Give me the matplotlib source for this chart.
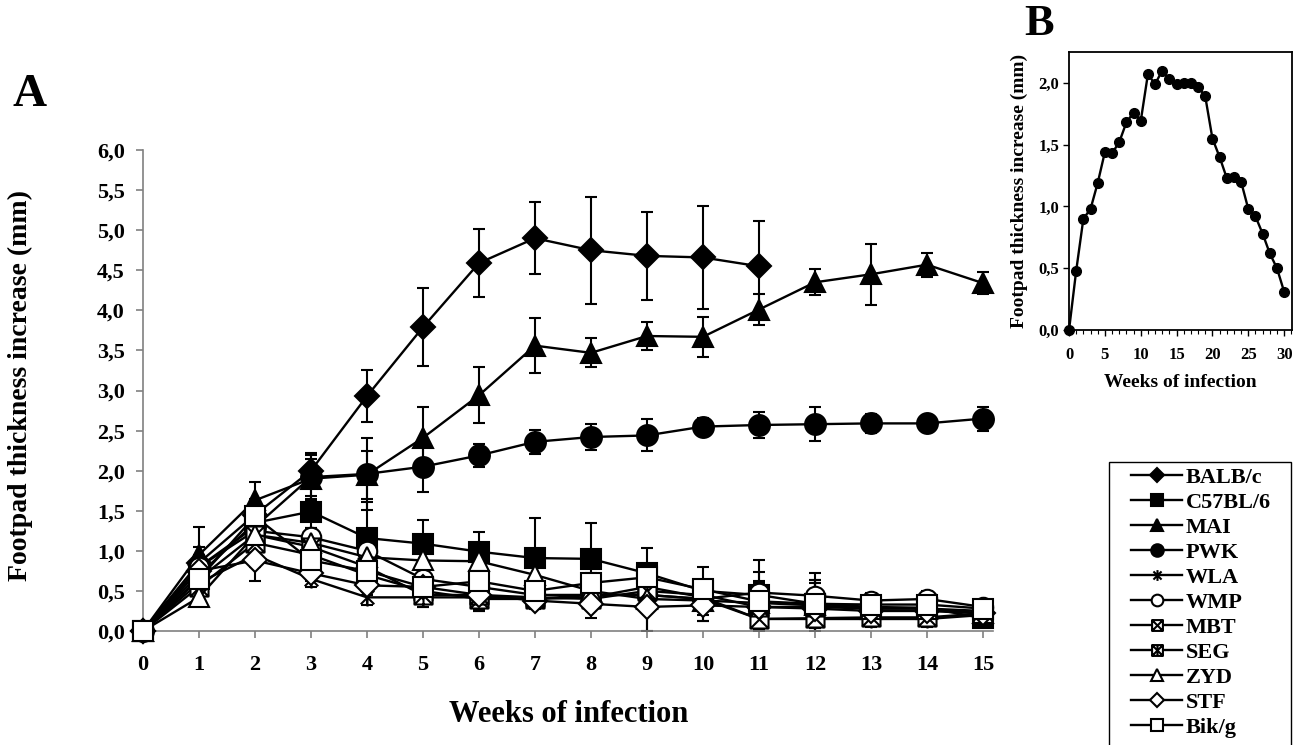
import numpy as np
import matplotlib
matplotlib.use("Agg")
import matplotlib.pyplot as plt
from matplotlib.path import Path
from matplotlib.patches import Rectangle
from matplotlib.ticker import FuncFormatter, MultipleLocator

plt.rcParams['font.family'] = ['Liberation Serif', 'DejaVu Serif']
plt.rcParams['font.weight'] = 'bold'

# panel A data (weeks of infection, mean footpad increase, SD)
weeks = np.arange(16)
strains = ['BALB/c', 'C57BL/6', 'MAI', 'PWK', 'WLA', 'WMP', 'MBT', 'SEG', 'ZYD', 'STF', 'Bik/g']

balb = [0, 0.85, 1.45, 2.00, 2.93, 3.79, 4.59, 4.90, 4.75, 4.68, 4.66, 4.55]
balb_err = [0, 0.20, 0.20, 0.22, 0.32, 0.49, 0.42, 0.45, 0.67, 0.55, 0.64, 0.57]
c57 = [0, 0.70, 1.35, 1.49, 1.16, 1.09, 0.99, 0.91, 0.90, 0.72, 0.50, 0.45, 0.34, 0.30, 0.29, 0.16]
c57_err = [0, 0.15, 0.20, 0.20, 0.45, 0.30, 0.24, 0.50, 0.45, 0.32, 0.30, 0.43, 0.30, 0.15, 0.12, 0.10]
mai = [0, 0.95, 1.63, 1.90, 1.95, 2.41, 2.94, 3.56, 3.47, 3.68, 3.67, 4.01, 4.35, 4.45, 4.57, 4.34]
mai_err = [0, 0.35, 0.23, 0.25, 0.30, 0.38, 0.35, 0.34, 0.18, 0.17, 0.25, 0.19, 0.16, 0.38, 0.15, 0.14]
pwk = [0, 0.80, 1.30, 1.92, 1.96, 2.05, 2.19, 2.36, 2.42, 2.44, 2.55, 2.57, 2.58, 2.59, 2.59, 2.65]
pwk_err = [0, 0.15, 0.20, 0.28, 0.45, 0.31, 0.14, 0.15, 0.16, 0.20, 0.11, 0.16, 0.21, 0.12, 0.11, 0.15]
wla = [0, 0.60, 0.95, 0.65, 0.42, 0.42, 0.42, 0.40, 0.45, 0.45, 0.40, 0.15, 0.15, 0.15, 0.15, 0.20]
wla_err = [0, 0.10, 0.15, 0.10, 0.10, 0.12, 0.15, 0.10, 0.12, 0.15, 0.12, 0.15, 0.25, 0.10, 0.10, 0.08]
wmp = [0, 0.80, 1.25, 1.17, 1.00, 0.65, 0.55, 0.45, 0.45, 0.45, 0.40, 0.48, 0.44, 0.38, 0.40, 0.30]
wmp_err = [0, 0.12, 0.15, 0.12, 0.15, 0.12, 0.10, 0.10, 0.10, 0.12, 0.12, 0.15, 0.20, 0.10, 0.10, 0.08]
mbt = [0, 0.55, 1.10, 0.95, 0.70, 0.50, 0.40, 0.40, 0.42, 0.55, 0.42, 0.15, 0.16, 0.17, 0.17, 0.22]
mbt_err = [0, 0.10, 0.15, 0.12, 0.10, 0.10, 0.12, 0.10, 0.10, 0.20, 0.12, 0.18, 0.25, 0.10, 0.08, 0.08]
seg = [0, 0.65, 1.20, 1.05, 0.80, 0.45, 0.45, 0.42, 0.40, 0.50, 0.45, 0.30, 0.30, 0.28, 0.28, 0.25]
seg_err = [0, 0.10, 0.15, 0.12, 0.12, 0.15, 0.20, 0.12, 0.12, 0.15, 0.15, 0.30, 0.30, 0.12, 0.10, 0.08]
zyd = [0, 0.42, 1.20, 1.10, 0.92, 0.88, 0.87, 0.70, 0.50, 0.40, 0.38, 0.35, 0.32, 0.28, 0.28, 0.22]
zyd_err = [0, 0.10, 0.20, 0.15, 0.15, 0.12, 0.18, 0.15, 0.15, 0.40, 0.25, 0.38, 0.40, 0.15, 0.12, 0.10]
stf = [0, 0.75, 0.88, 0.72, 0.57, 0.55, 0.45, 0.38, 0.34, 0.30, 0.32, 0.30, 0.28, 0.25, 0.25, 0.22]
stf_err = [0, 0.12, 0.25, 0.10, 0.12, 0.10, 0.20, 0.10, 0.18, 0.32, 0.20, 0.20, 0.20, 0.10, 0.10, 0.08]
bik = [0, 0.65, 1.43, 0.88, 0.75, 0.55, 0.62, 0.50, 0.60, 0.67, 0.52, 0.37, 0.34, 0.33, 0.33, 0.28]
bik_err = [0, 0.10, 0.12, 0.12, 0.12, 0.10, 0.12, 0.10, 0.12, 0.12, 0.12, 0.15, 0.15, 0.10, 0.10, 0.08]

# panel B data
weeks_b = np.arange(31)
footpad_b = [0, 0.48, 0.90, 0.98, 1.19, 1.44, 1.43, 1.52, 1.68, 1.76, 1.69, 2.07, 1.99, 2.10,
             2.03, 1.99, 2.00, 2.00, 1.97, 1.89, 1.55, 1.40, 1.23, 1.24, 1.20, 0.98, 0.92,
             0.78, 0.62, 0.50, 0.31]

# custom markers
asterisk = Path([(-0.75, -0.75), (0.75, 0.75), (-0.75, 0.75), (0.75, -0.75), (0, -1), (0, 1)],
                [Path.MOVETO, Path.LINETO] * 3)
sq = [(-1, -1), (1, -1), (1, 1), (-1, 1), (-1, -1)]
sq_codes = [Path.MOVETO, Path.LINETO, Path.LINETO, Path.LINETO, Path.CLOSEPOLY]
box_x = Path(sq + [(-1, -1), (1, 1), (-1, 1), (1, -1)],
             sq_codes + [Path.MOVETO, Path.LINETO, Path.MOVETO, Path.LINETO])
box_star = Path(sq + [(-1, -1), (1, 1), (-1, 1), (1, -1), (0, -1), (0, 1)],
                sq_codes + [Path.MOVETO, Path.LINETO] * 3)

series = [
    (balb, balb_err, 'D', 'black', 12),
    (c57, c57_err, 's', 'black', 14),
    (mai, mai_err, '^', 'black', 15),
    (pwk, pwk_err, 'o', 'black', 15),
    (wla, wla_err, asterisk, 'black', 13),
    (wmp, wmp_err, 'o', 'white', 14),
    (mbt, mbt_err, box_x, 'white', 13),
    (seg, seg_err, box_star, 'white', 13),
    (zyd, zyd_err, '^', 'white', 15),
    (stf, stf_err, 'D', 'white', 12),
    (bik, bik_err, 's', 'white', 14),
]

fig = plt.figure(figsize=(12.95, 7.45), dpi=100)
ax = fig.add_axes([0.1104, 0.153, 0.6564, 0.6456])

handles = []
for (vals, err, mk, fc, ms), name in zip(series, strains):
    x = weeks[:len(vals)]
    ax.errorbar(x, vals, yerr=err, fmt='none', ecolor='black', elinewidth=1.5,
                capsize=4.5, capthick=1.5, zorder=2)
    h, = ax.plot(x, vals, color='black', lw=1.7, marker=mk, markersize=ms,
                 markerfacecolor=fc, markeredgecolor='black', markeredgewidth=1.5,
                 label=name, zorder=3, clip_on=False)
    handles.append(h)

ax.set_xlim(0, 15.18)
ax.set_ylim(0, 6)
ax.set_xticks(weeks)
ax.yaxis.set_major_locator(MultipleLocator(0.5))
ax.yaxis.set_major_formatter(FuncFormatter(lambda v, p: f'{v:.1f}'.replace('.', ',')))
for s in ['top', 'right']:
    ax.spines[s].set_visible(False)
for s in ['left', 'bottom']:
    ax.spines[s].set_color('#808080')
    ax.spines[s].set_linewidth(1.2)
ax.tick_params(axis='both', colors='#808080', length=5, width=1.2, labelsize=16,
               labelcolor='black')
ax.tick_params(axis='x', pad=12)
ax.tick_params(axis='y', pad=8)
for lab in ax.get_xticklabels() + ax.get_yticklabels():
    lab.set_fontweight('bold')
ax.set_ylabel('Footpad thickness increase (mm)', fontsize=20, fontweight='bold')
ax.yaxis.set_label_coords(-0.129, 0.51)
fig.text(569 / 1295, 1 - 714 / 745, 'Weeks of infection', fontsize=22, fontweight='bold',
         ha='center', va='center')
fig.text(30 / 1295, 1 - 95 / 745, 'A', fontsize=34, fontweight='bold', ha='center', va='center')

# legend: frame drawn by hand, it runs off the bottom edge
fig.patches.append(Rectangle((1109 / 1295, -0.05), 182 / 1295, 0.05 + 1 - 462 / 745,
                             transform=fig.transFigure, fill=False, edgecolor='black',
                             linewidth=1.0))
leg = fig.legend(handles=handles, loc='upper left', bbox_to_anchor=(1131 / 1295, 1 - 467 / 745),
                 bbox_transform=fig.transFigure, frameon=False, fontsize=16,
                 markerscale=0.6, handlelength=2.3, labelspacing=0.2, borderpad=0,
                 borderaxespad=0, handletextpad=0.15)
for t in leg.get_texts():
    t.set_fontweight('bold')

# panel B
axb = fig.add_axes([0.8255, 0.557, 0.1722, 0.3732])
axb.plot(weeks_b, footpad_b, color='black', lw=1.7, marker='o', markersize=7, clip_on=False)
axb.set_xlim(0, 31.1)
axb.set_ylim(0, 2.25)
axb.set_xticks(np.arange(0, 31, 5))
axb.xaxis.set_minor_locator(MultipleLocator(1))
axb.yaxis.set_major_locator(MultipleLocator(0.5))
axb.yaxis.set_major_formatter(FuncFormatter(lambda v, p: f'{v:.1f}'.replace('.', ',')))
for s in axb.spines.values():
    s.set_linewidth(1.3)
axb.tick_params(axis='both', which='major', length=4, width=1, labelsize=12)
axb.tick_params(axis='x', which='major', pad=8)
axb.tick_params(axis='y', which='major', pad=3)
axb.tick_params(axis='x', which='minor', length=3, width=0.8)
for lab in axb.get_xticklabels() + axb.get_yticklabels():
    lab.set_fontweight('bold')
axb.set_xlabel('Weeks of infection', fontsize=14, fontweight='bold', labelpad=8)
axb.set_ylabel('Footpad thickness increase (mm)', fontsize=14, fontweight='bold')
axb.yaxis.set_label_coords(-0.184, 0.5)
fig.text(1039 / 1295, 1 - 24 / 745, 'B', fontsize=32, fontweight='bold', ha='center', va='center')

fig.savefig('out.png', dpi=100)
